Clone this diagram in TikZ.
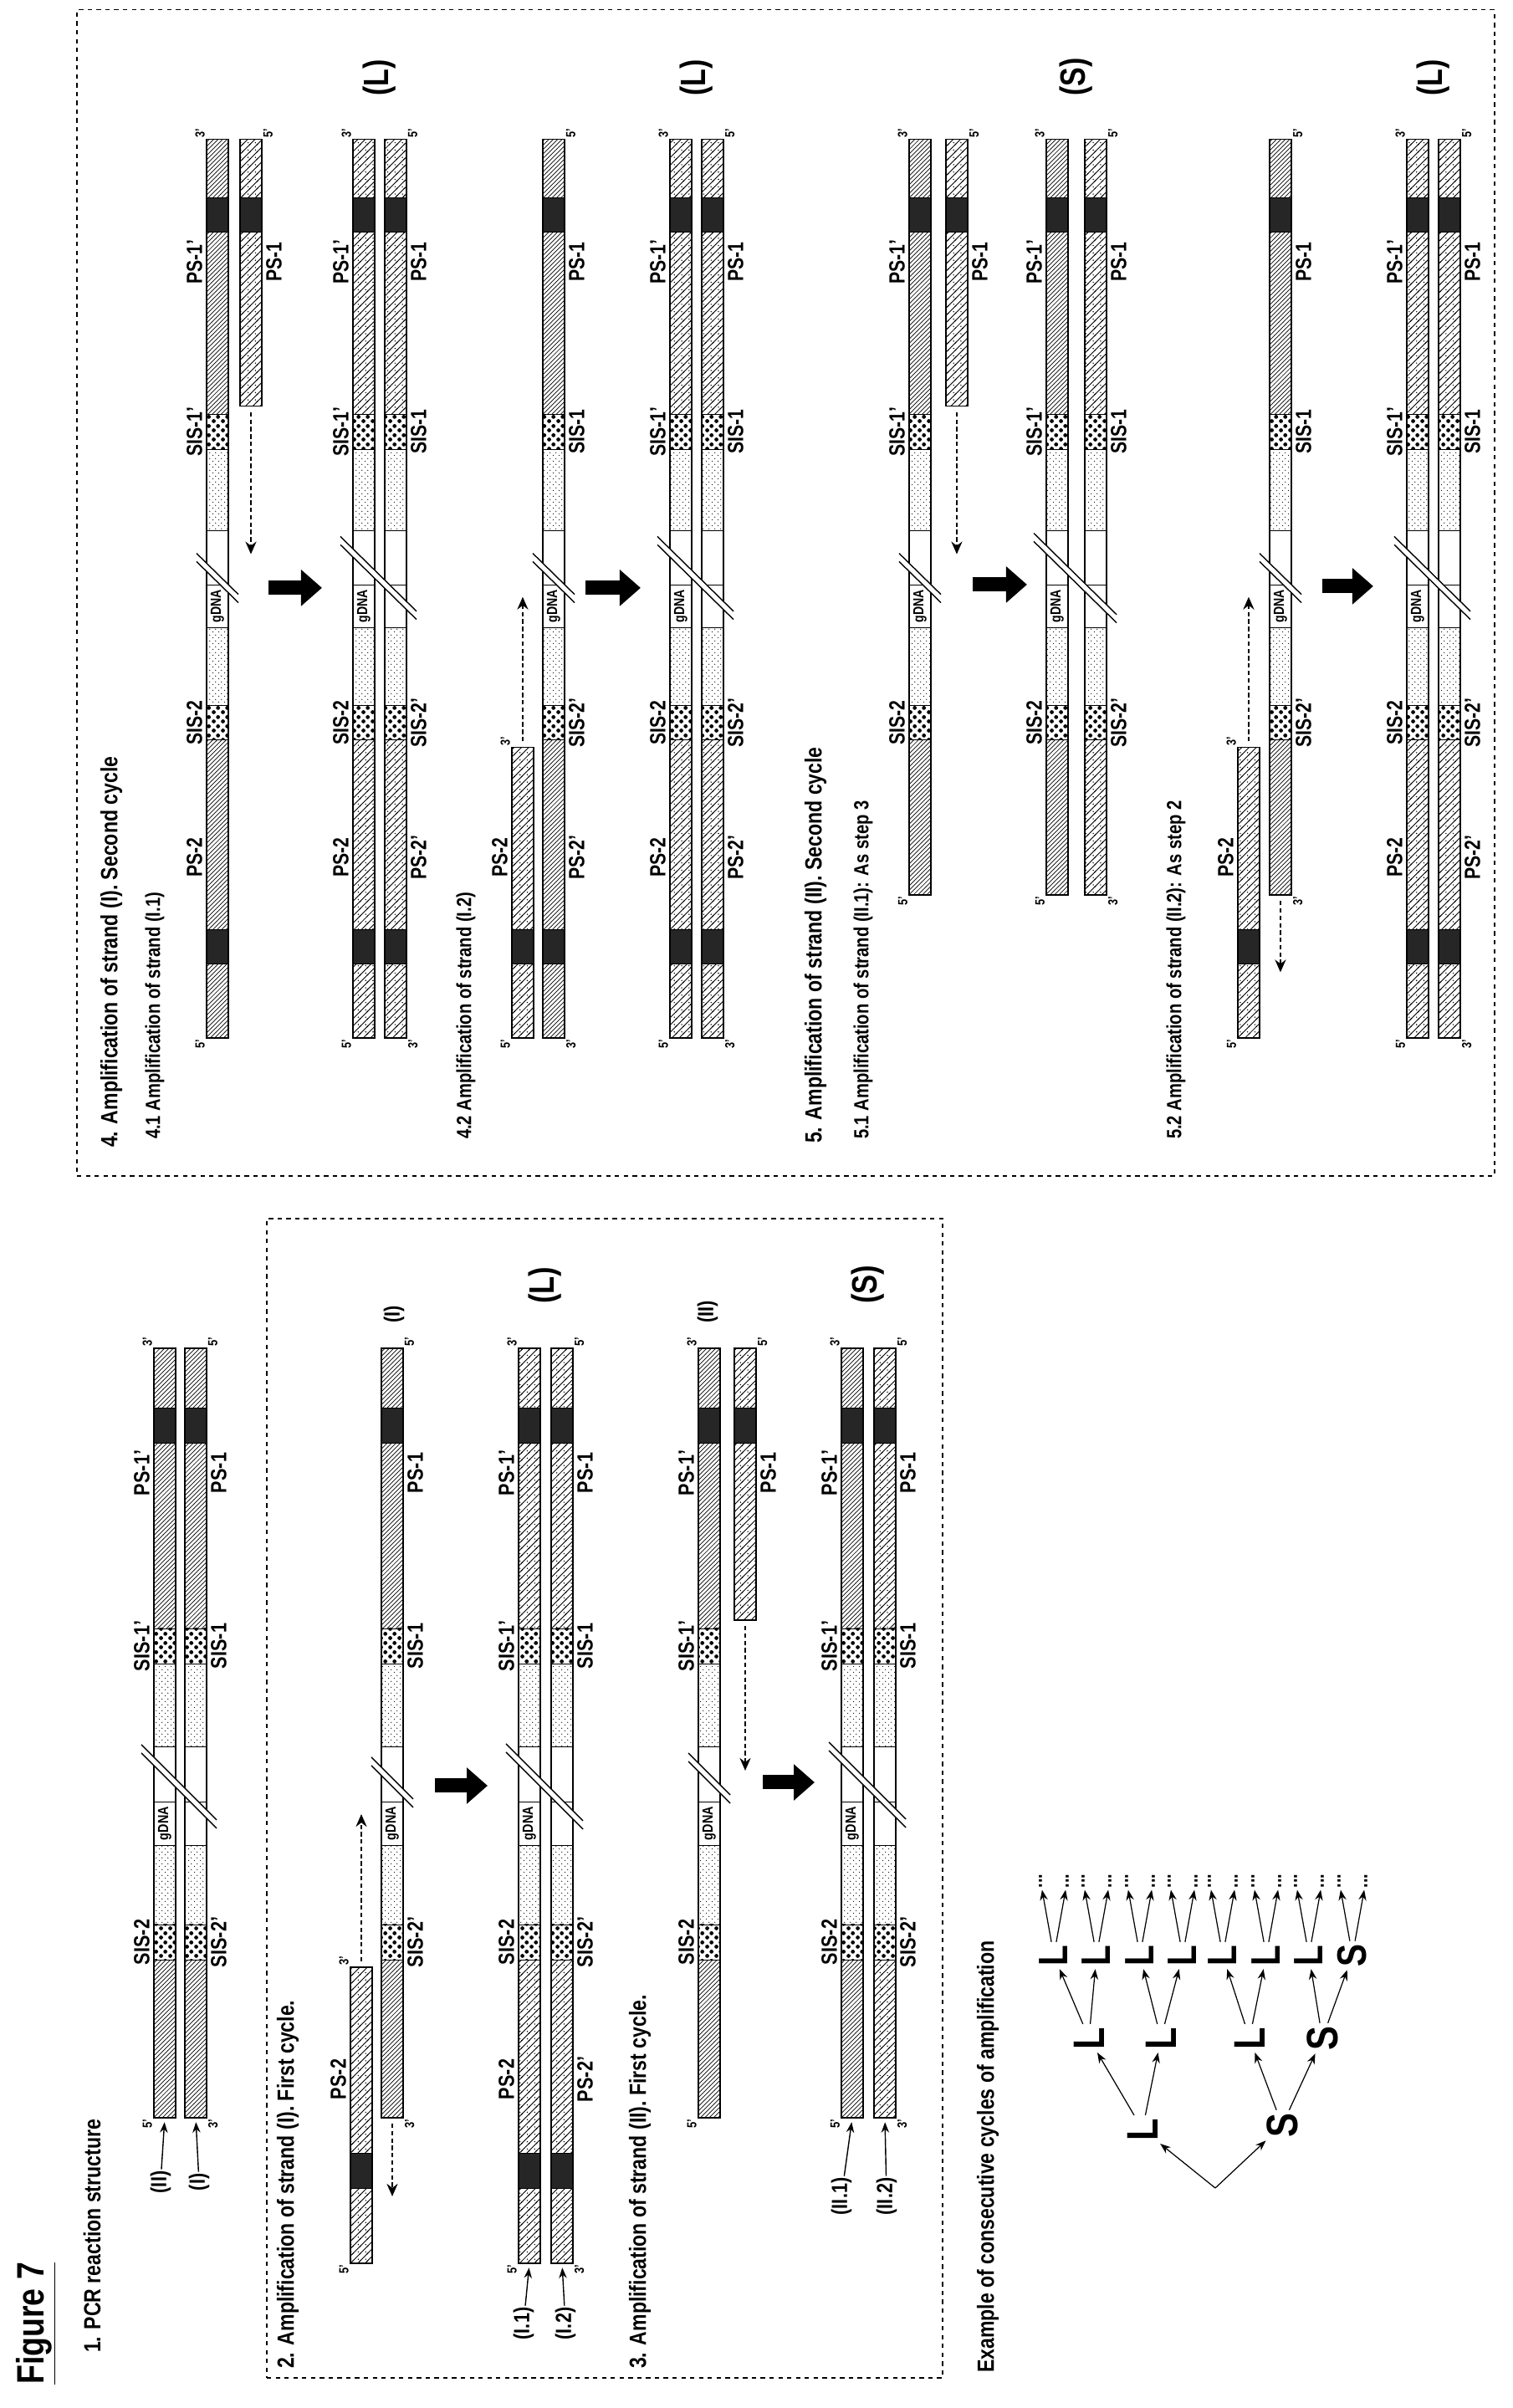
\documentclass[tikz,border=0pt]{standalone}
\usepackage{fontspec}
\setmainfont{Liberation Sans}[FakeStretch=0.82]
\usetikzlibrary{positioning,calc,patterns,arrows.meta}

\pgfdeclarepatternformonly{sparse hatch}{\pgfqpoint{-1pt}{-1pt}}{\pgfqpoint{6pt}{6pt}}{\pgfqpoint{5pt}{5pt}}{%
  \pgfsetlinewidth{0.5pt}%
  \pgfpathmoveto{\pgfqpoint{-0.5pt}{-0.5pt}}\pgfpathlineto{\pgfqpoint{5.5pt}{5.5pt}}\pgfusepath{stroke}%
  \pgfpathcircle{\pgfqpoint{3.8pt}{1.2pt}}{0.45pt}\pgfusepath{fill}}
\pgfdeclarepatternformonly{big checker}{\pgfqpoint{0pt}{0pt}}{\pgfqpoint{6pt}{6pt}}{\pgfqpoint{6pt}{6pt}}{%
  \pgfpathcircle{\pgfqpoint{1.5pt}{1.5pt}}{1.4pt}\pgfusepath{fill}%
  \pgfpathcircle{\pgfqpoint{4.5pt}{4.5pt}}{1.4pt}\pgfusepath{fill}}
\pgfdeclarepatternformonly{fine dots}{\pgfqpoint{0pt}{0pt}}{\pgfqpoint{4pt}{4pt}}{\pgfqpoint{4pt}{4pt}}{%
  \pgfpathcircle{\pgfqpoint{1pt}{1pt}}{0.4pt}\pgfusepath{fill}%
  \pgfpathcircle{\pgfqpoint{3pt}{3pt}}{0.4pt}\pgfusepath{fill}}

% one strand: name, Y top, start, end, hatch, gDNA label, left end, right end, labels below (1)
\newcommand{\dnastrand}[9]{%
  \begin{scope}
    \clip (#3,-#2) rectangle (#4,-#2-26);
    \fill[white] (#3,-#2) rectangle (#4,-#2-26);
    \fill[pattern=#5] (0,-#2) rectangle (1094,-#2-26);
    \fill[black!85] (90,-#2) rectangle (132,-#2-26);
    \fill[white] (363,-#2) rectangle (717,-#2-26);
    \fill[pattern=big checker] (363,-#2) rectangle (405,-#2-26);
    \fill[pattern=fine dots] (405,-#2) rectangle (500,-#2-26);
    \fill[pattern=fine dots] (618,-#2) rectangle (717,-#2-26);
    \fill[white] (717,-#2) rectangle (759,-#2-26);
    \fill[pattern=big checker] (717,-#2) rectangle (759,-#2-26);
    \fill[black!85] (981,-#2) rectangle (1023,-#2-26);
    \foreach \b in {90,132,363,405,500,552,618,717,759,981,1023}
      \draw[thin] (\b,-#2) -- ++(0,-26);
    \ifnum#6=1 \node[gdna] (#1-g) at (526,-#2-13) {gDNA};\fi
  \end{scope}
  \draw[strandline] (#3,-#2) rectangle (#4,-#2-26);
  \coordinate (#1-w) at (#3,-#2-13);
  \coordinate (#1-e) at (#4,-#2-13);
  \ifnum#9=0
    \node[endlab,anchor=south east] (#1-l) at (#3,-#2) {#7};
    \node[endlab,anchor=south west] (#1-r) at (#4,-#2) {#8};
  \else
    \node[endlab,anchor=north east] (#1-l) at (#3,-#2-26) {#7};
    \node[endlab,anchor=north west] (#1-r) at (#4,-#2-26) {#8};
  \fi}
\newcommand{\dnalabsup}[2]{\foreach \t/\s in {#2}{\node[lab,anchor=south] (u#1-\t) at (\t,-#1+3) {\s};}}
\newcommand{\dnalabsdown}[2]{\foreach \t/\s in {#2}{\node[lab,anchor=north] (d#1-\t) at (\t,-#1-29) {\s};}}
\newcommand{\dnabreak}[3]{%
  \fill[white] ({#1-5-(#3-#2)/2},-#3) -- ({#1+5-(#3-#2)/2},-#3) -- ({#1+5+(#3-#2)/2},-#2) -- ({#1-5+(#3-#2)/2},-#2) -- cycle;
  \draw[thick] ({#1-5-(#3-#2)/2},-#3) -- ({#1-5+(#3-#2)/2},-#2);
  \draw[thick] ({#1+5-(#3-#2)/2},-#3) -- ({#1+5+(#3-#2)/2},-#2);}

\begin{document}
\begin{tikzpicture}[x=0.2mm,y=0.2mm,
  strandline/.style={line width=0.7pt},
  lab/.style={font=\bfseries\fontsize{15}{15}\selectfont,inner sep=1pt},
  endlab/.style={font=\bfseries\fontsize{9}{9}\selectfont,inner sep=1pt},
  gdna/.style={font=\bfseries\fontsize{10}{10}\selectfont,inner sep=0pt},
  grp/.style={font=\bfseries\fontsize{24}{24}\selectfont,anchor=west,inner sep=1pt},
  ttl/.style={font=\bfseries\fontsize{16}{16}\selectfont,anchor=west,inner sep=1pt},
  subttl/.style={font=\bfseries\fontsize{14}{14}\selectfont,anchor=west,inner sep=1pt},
  framebox/.style={dash pattern=on 3pt off 3pt,line width=0.6pt},
  bigarrow/.style={line width=3.4mm,-{Triangle[length=5mm,width=8.4mm]}},
  extarr/.style={densely dashed,line width=1.3pt,shorten <=4pt,-{Stealth[length=3mm,width=2.6mm]}},
  labarr/.style={line width=0.8pt,shorten >=3pt,-{Stealth[length=2.5mm]}},
  treeL/.style={font=\bfseries\fontsize{30}{30}\selectfont,inner sep=2pt},
  treeM/.style={font=\bfseries\fontsize{28}{28}\selectfont,inner sep=2pt},
  treeD/.style={font=\bfseries\fontsize{14}{14}\selectfont,inner sep=1pt},
  treearr/.style={line width=0.7pt,-{Stealth[length=2.5mm]}}]
\begin{scope}[rotate=90,transform shape]
\useasboundingbox (0,0) rectangle (2879,-1808);

% titles
\node[font=\bfseries\fontsize{26}{26}\selectfont,anchor=west] (fig) at (22,-43) {\underline{Figure 7}};
\node[ttl] (tOne) at (64,-110) {1. PCR reaction structure};
\node[ttl] (tTwo) at (45,-344) {2. Amplification of strand (I). First cycle.};
\node[ttl] (tThr) at (45,-765) {3. Amplification of strand (II). First cycle.};
\node[ttl] (tEx) at (40,-1181) {Example of consecutive cycles of amplification};
\node[ttl] (tFour) at (1505,-133) {4. Amplification of strand (I). Second cycle};
\node[subttl] (tFa) at (1515,-185) {4.1 Amplification of strand (I.1)};
\node[subttl] (tFb) at (1515,-557) {4.2 Amplification of strand (I.2)};
\node[ttl] (tFive) at (1510,-975) {5. Amplification of strand (II). Second cycle};
\node[subttl] (tFc) at (1515,-1032) {5.1 Amplification of strand (II.1): As step 3};
\node[subttl] (tFd) at (1515,-1406) {5.2 Amplification of strand (II.2): As step 2};

\draw[framebox] (36,-319) rectangle (1422,-1127);
\draw[framebox] (1473,-92) rectangle (2867,-1787);

% sections 1 to 3
\begin{scope}[shift={(173,0)}]
% 1
\dnastrand{sOneA}{184}{174}{1094}{north east lines}{1}{5’}{3’}{0}
\dnastrand{sOneB}{221}{174}{1094}{north east lines}{0}{3’}{5’}{1}
\dnalabsup{184}{384/SIS-2,738/SIS-1’,945/PS-1’}
\dnalabsdown{221}{384/SIS-2’,738/SIS-1,945/PS-1}
\dnabreak{570}{169}{259}
\node[lab] (lII) at (97,-192) {(II)};
\node[lab] (lI) at (97,-238) {(I)};
\draw[labarr] (lII) -- (sOneA-w);
\draw[labarr] (lI) -- (sOneB-w);
% 2
\dnastrand{sTwoP}{419}{0}{354}{sparse hatch}{0}{5’}{3’}{0}
\dnastrand{sTwoT}{456}{174}{1094}{north east lines}{1}{3’}{5’}{1}
\dnalabsup{419}{220/PS-2}
\dnalabsdown{456}{384/SIS-2’,738/SIS-1,945/PS-1}
\coordinate (sTwoPtip) at (537,-432);
\coordinate (sTwoTtip) at (80,-469);
\draw[extarr] (sTwoP-e) -- (sTwoPtip);
\draw[extarr] (sTwoT-w) -- (sTwoTtip);
\node[lab,anchor=west] (lTwoI) at (1122,-471) {(I)};
\dnabreak{575}{444}{494}
\coordinate (aTwoA) at (571,-520);
\coordinate (aTwoB) at (571,-583);
\draw[bigarrow] (aTwoA) -- (aTwoB);
\dnastrand{sTwoRa}{620}{0}{1094}{sparse hatch}{1}{5’}{3’}{0}
\dnastrand{sTwoRb}{659}{0}{1094}{sparse hatch}{0}{3’}{5’}{1}
\dnalabsup{620}{220/PS-2,384/SIS-2,738/SIS-1’,945/PS-1’}
\dnalabsdown{659}{220/PS-2’,384/SIS-2’,738/SIS-1,945/PS-1}
\dnabreak{570}{605}{697}
\node[grp] (gTwo) at (1145,-652) {(L)};
\node[lab] (lIa) at (-72,-626) {(I.1)};
\node[lab] (lIb) at (-72,-676) {(I.2)};
\draw[labarr] (lIa) -- (sTwoRa-w);
\draw[labarr] (lIb) -- (sTwoRb-w);
% 3
\dnastrand{sThrT}{835}{174}{1094}{north east lines}{1}{5’}{3’}{0}
\dnastrand{sThrP}{878}{769}{1094}{sparse hatch}{0}{}{5’}{1}
\dnalabsup{835}{384/SIS-2,738/SIS-1’,945/PS-1’}
\dnalabsdown{878}{945/PS-1}
\coordinate (sThrPtip) at (589,-891);
\draw[extarr] (sThrP-w) -- (sThrPtip);
\node[lab,anchor=west] (lThrII) at (1122,-846) {(II)};
\dnabreak{580}{823}{873}
\coordinate (aThrA) at (575,-912);
\coordinate (aThrB) at (575,-974);
\draw[bigarrow] (aThrA) -- (aThrB);
\dnastrand{sThrRa}{1006}{174}{1094}{north east lines}{1}{5’}{3’}{0}
\dnastrand{sThrRb}{1045}{174}{1094}{sparse hatch}{0}{3’}{5’}{1}
\dnalabsup{1006}{384/SIS-2,738/SIS-1’,945/PS-1’}
\dnalabsdown{1045}{384/SIS-2’,738/SIS-1,945/PS-1}
\dnabreak{572}{991}{1083}
\node[grp] (gThr) at (1145,-1038) {(S)};
\node[lab] (lIIa) at (80,-1006) {(II.1)};
\node[lab] (lIIb) at (80,-1060) {(II.2)};
\draw[labarr] (lIIa) -- (sThrRa-w);
\draw[labarr] (lIIb) -- (sThrRb-w);
\end{scope}

% sections 4 and 5
\begin{scope}[shift={(1638,0)},xscale=0.982]
% 4.1
\dnastrand{sFaT}{247}{0}{1094}{north east lines}{1}{5’}{3’}{0}
\dnastrand{sFaP}{287}{769}{1094}{sparse hatch}{0}{}{5’}{1}
\dnalabsup{247}{220/PS-2,384/SIS-2,738/SIS-1’,945/PS-1’}
\dnalabsdown{287}{945/PS-1}
\coordinate (sFaPtip) at (589,-300);
\draw[extarr] (sFaP-w) -- (sFaPtip);
\dnabreak{560}{235}{285}
\coordinate (aFaA) at (548,-321);
\coordinate (aFaB) at (548,-385);
\draw[bigarrow] (aFaA) -- (aFaB);
\dnastrand{sFaRa}{422}{0}{1094}{sparse hatch}{1}{5’}{3’}{0}
\dnastrand{sFaRb}{460}{0}{1094}{sparse hatch}{0}{3’}{5’}{1}
\dnalabsup{422}{220/PS-2,384/SIS-2,738/SIS-1’,945/PS-1’}
\dnalabsdown{460}{220/PS-2’,384/SIS-2’,738/SIS-1,945/PS-1}
\dnabreak{560}{407}{498}
\node[grp] (gFa) at (1145,-454) {(L)};
% 4.2
\dnastrand{sFbP}{612}{0}{354}{sparse hatch}{0}{5’}{3’}{0}
\dnastrand{sFbT}{649}{0}{1094}{north east lines}{1}{3’}{5’}{1}
\dnalabsup{612}{220/PS-2}
\dnalabsdown{649}{220/PS-2’,384/SIS-2’,738/SIS-1,945/PS-1}
\coordinate (sFbPtip) at (537,-625);
\draw[extarr] (sFbP-e) -- (sFbPtip);
\dnabreak{560}{637}{687}
\coordinate (aFbA) at (548,-700);
\coordinate (aFbB) at (548,-766);
\draw[bigarrow] (aFbA) -- (aFbB);
\dnastrand{sFbRa}{801}{0}{1094}{sparse hatch}{1}{5’}{3’}{0}
\dnastrand{sFbRb}{839}{0}{1094}{sparse hatch}{0}{3’}{5’}{1}
\dnalabsup{801}{220/PS-2,384/SIS-2,738/SIS-1’,945/PS-1’}
\dnalabsdown{839}{220/PS-2’,384/SIS-2’,738/SIS-1,945/PS-1}
\dnabreak{560}{786}{877}
\node[grp] (gFb) at (1145,-833) {(L)};
% 5.1
\dnastrand{sFcT}{1087}{174}{1094}{north east lines}{1}{5’}{3’}{0}
\dnastrand{sFcP}{1131}{769}{1094}{sparse hatch}{0}{}{5’}{1}
\dnalabsup{1087}{384/SIS-2,738/SIS-1’,945/PS-1’}
\dnalabsdown{1131}{945/PS-1}
\coordinate (sFcPtip) at (589,-1144);
\draw[extarr] (sFcP-w) -- (sFcPtip);
\dnabreak{560}{1075}{1125}
\coordinate (aFcA) at (552,-1163);
\coordinate (aFcB) at (552,-1228);
\draw[bigarrow] (aFcA) -- (aFcB);
\dnastrand{sFcRa}{1251}{174}{1094}{north east lines}{1}{5’}{3’}{0}
\dnastrand{sFcRb}{1297}{174}{1094}{sparse hatch}{0}{3’}{5’}{1}
\dnalabsup{1251}{384/SIS-2,738/SIS-1’,945/PS-1’}
\dnalabsdown{1297}{384/SIS-2’,738/SIS-1,945/PS-1}
\dnabreak{560}{1236}{1335}
\node[grp] (gFc) at (1145,-1287) {(S)};
% 5.2
\dnastrand{sFdP}{1480}{0}{354}{sparse hatch}{0}{5’}{3’}{0}
\dnastrand{sFdT}{1518}{174}{1094}{north east lines}{1}{3’}{5’}{1}
\dnalabsup{1480}{220/PS-2}
\dnalabsdown{1518}{384/SIS-2’,738/SIS-1,945/PS-1}
\coordinate (sFdPtip) at (537,-1493);
\coordinate (sFdTtip) at (80,-1531);
\draw[extarr] (sFdP-e) -- (sFdPtip);
\draw[extarr] (sFdT-w) -- (sFdTtip);
\dnabreak{560}{1506}{1556}
\coordinate (aFdA) at (550,-1581);
\coordinate (aFdB) at (550,-1642);
\draw[bigarrow] (aFdA) -- (aFdB);
\dnastrand{sFdRa}{1682}{0}{1094}{sparse hatch}{1}{5’}{3’}{0}
\dnastrand{sFdRb}{1720}{0}{1094}{sparse hatch}{0}{3’}{5’}{1}
\dnalabsup{1682}{220/PS-2,384/SIS-2,738/SIS-1’,945/PS-1’}
\dnalabsdown{1720}{220/PS-2’,384/SIS-2’,738/SIS-1,945/PS-1}
\dnabreak{560}{1667}{1758}
\node[grp] (gFd) at (1145,-1714) {(L)};
\end{scope}

% tree of cycles
\coordinate (root) at (263,-1453);
\node[treeL] (tA) at (333,-1366) {L};
\node[treeL] (tB) at (338,-1533) {S};
\node[treeL] (tAA) at (442,-1302) {L};
\node[treeL] (tAB) at (442,-1388) {L};
\node[treeL] (tBA) at (442,-1494) {L};
\node[treeL] (tBB) at (442,-1581) {S};
\foreach \n/\p/\y/\s in {tAAA/tAA/1260/L,tAAB/tAA/1311/L,tABA/tAB/1363/L,tABB/tAB/1414/L,
                         tBAA/tBA/1462/L,tBAB/tBA/1514/L,tBBA/tBB/1565/L,tBBB/tBB/1617/S}{
  \node[treeM] (\n) at (541,-\y) {\s};
  \draw[treearr] (\p) -- (\n);
  \node[treeD] (\n a) at (630,-\y+16) {...};
  \node[treeD] (\n b) at (630,-\y-16) {...};
  \draw[treearr] (\n) -- (\n a);
  \draw[treearr] (\n) -- (\n b);
}
\draw[treearr] (root) -- (tA);
\draw[treearr] (root) -- (tB);
\draw[treearr] (tA) -- (tAA);
\draw[treearr] (tA) -- (tAB);
\draw[treearr] (tB) -- (tBA);
\draw[treearr] (tB) -- (tBB);
\end{scope}
\end{tikzpicture}
\end{document}
